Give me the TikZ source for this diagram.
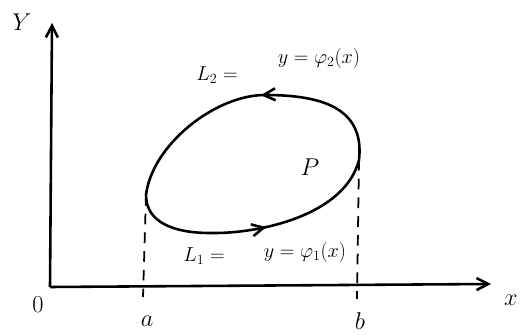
\documentclass[tikz,border=0pt]{standalone}
\usetikzlibrary{arrows.meta,decorations.markings}

\begin{document}
\begin{tikzpicture}[x=0.03cm,y=0.03cm,>={Straight Barb[length=3.5mm,width=3.6mm]},line width=2.2pt,every node/.style={font=\LARGE,inner sep=1pt}]
    \useasboundingbox (0,0) rectangle (527,335);
    \coordinate (o) at (50,48);
    \coordinate (ytop) at (52,312);
    \coordinate (xend) at (491,51);
    \coordinate (pa) at (146,140);
    \coordinate (pb) at (210,102);
    \coordinate (pr) at (359,175);
    \coordinate (pt) at (265,240);
    \coordinate (ta) at (143,38);
    \coordinate (tb) at (357,36);
    \draw[->] (o)--(ytop);
    \draw[->] (o)--(xend);
    \draw[line width=1.5pt,dash pattern=on 9pt off 7pt] (pa)--(ta);
    \draw[line width=1.5pt,dash pattern=on 9pt off 7pt] (pr)--(tb);
    \draw[postaction=decorate,decoration={markings,mark=at position 0.25 with {\arrow{>}},mark=at position 0.71 with {\arrow{>}}}]
      (pa) .. controls (146,112) and (175,102) .. (pb)
      .. controls (260,101) and (345,120) .. (pr)
      .. controls (365,228) and (320,240) .. (pt)
      .. controls (215,240) and (152,190) .. (pa) -- cycle;
    \node (ylab) at (22,313) {\huge$Y$};
    \node (xlab) at (511,35) {\huge$x$};
    \node (olab) at (38,30) {\huge$0$};
    \node (alab) at (147,14) {\huge$a$};
    \node (blab) at (360,14) {\huge$b$};
    \node (plab) at (310,168) {\huge$P$};
    \node (ltwo) at (217,260) {$L_2=$};
    \node (phitwo) at (319,277) {$y=\varphi_2(x)$};
    \node (lone) at (204,79) {$L_1=$};
    \node (phione) at (305,83) {$y=\varphi_1(x)$};
\end{tikzpicture}
\end{document}
